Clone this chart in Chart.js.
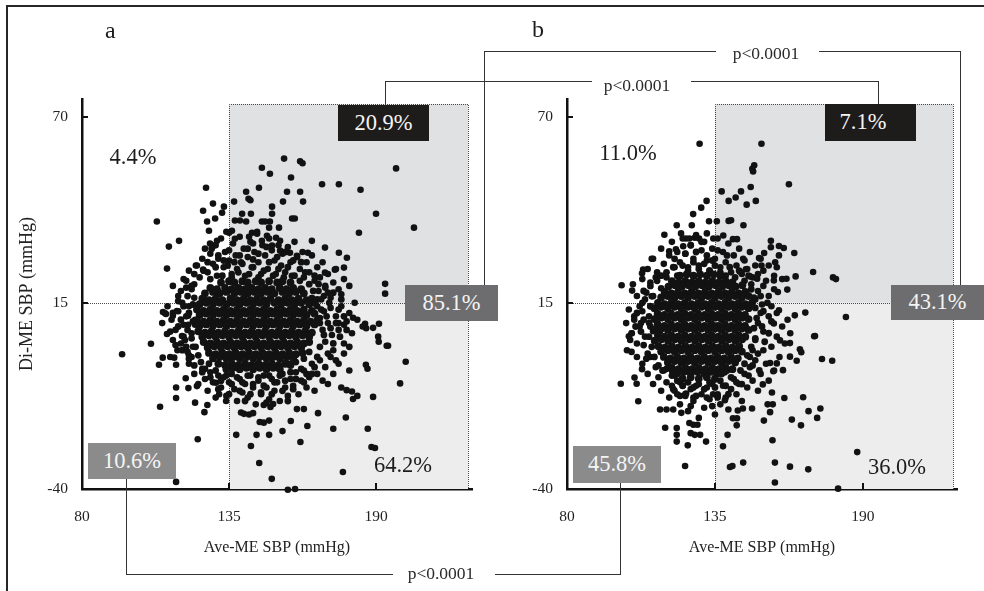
<!DOCTYPE html>
<html>
<head>
<meta charset="utf-8">
<script src="https://cdn.jsdelivr.net/npm/chart.js@4.4.1/dist/chart.umd.min.js"></script>
<style>
  html,body{margin:0;padding:0;background:#fff;}
  #wrap{position:relative;width:984px;height:591px;overflow:hidden;background:#fff;font-family:"Liberation Serif","Times New Roman",serif;}
  canvas{position:absolute;top:0;}
  .ln{position:absolute;background:#333;}
  .frame{position:absolute;background:#262626;}
  .txt{position:absolute;line-height:1;white-space:nowrap;transform:translate(-50%,-50%);color:#1c1c1c;}
  .pct{font-size:22.5px;}
  .pv{font-size:17.5px;color:#2a2a2a;}
  .box{position:absolute;display:flex;align-items:center;justify-content:center;font-size:22.5px;line-height:1;color:#f4f4f4;white-space:nowrap;}
  .panel{position:absolute;font-size:24px;line-height:1;color:#1c1c1c;}
</style>
</head>
<body>
<div id="wrap">
  <canvas id="chartA" width="490" height="591" style="left:0;width:490px;height:591px"></canvas>
  <canvas id="chartB" width="494" height="591" style="left:490px;width:494px;height:591px"></canvas>

  <!-- outer frame -->
  <div class="frame" style="left:6px;top:5px;width:978px;height:2px"></div>
  <div class="frame" style="left:6px;top:5px;width:2px;height:586px"></div>

  <!-- panel letters -->
  <div class="panel" style="left:105px;top:18px">a</div>
  <div class="panel" style="left:532px;top:17px">b</div>

  <!-- outer top bracket (85.1% vs 43.1%) -->
  <div class="ln" style="left:484px;top:51px;width:1px;height:234px"></div>
  <div class="ln" style="left:484px;top:51px;width:232px;height:1px"></div>
  <div class="ln" style="left:819px;top:51px;width:142px;height:1px"></div>
  <div class="ln" style="left:960px;top:51px;width:1px;height:234px"></div>
  <div class="txt pv" style="left:766px;top:54px">p&lt;0.0001</div>

  <!-- inner top bracket (20.9% vs 7.1%) -->
  <div class="ln" style="left:385px;top:81px;width:1px;height:24px"></div>
  <div class="ln" style="left:385px;top:81px;width:207px;height:1px"></div>
  <div class="ln" style="left:691px;top:81px;width:188px;height:1px"></div>
  <div class="ln" style="left:878px;top:81px;width:1px;height:23px"></div>
  <div class="txt pv" style="left:637px;top:86px">p&lt;0.0001</div>

  <!-- bottom bracket (10.6% vs 45.8%) -->
  <div class="ln" style="left:126px;top:479px;width:1px;height:95px"></div>
  <div class="ln" style="left:126px;top:574px;width:267px;height:1px"></div>
  <div class="ln" style="left:495px;top:574px;width:126px;height:1px"></div>
  <div class="ln" style="left:620px;top:483px;width:1px;height:92px"></div>
  <div class="txt pv" style="left:441px;top:574px">p&lt;0.0001</div>

  <!-- panel a labels -->
  <div class="txt pct" style="left:133px;top:157px">4.4%</div>
  <div class="box" style="left:338px;top:105px;width:91px;height:36px;background:#1e1b1b">20.9%</div>
  <div class="box" style="left:405px;top:285px;width:93px;height:36px;background:#6d6d6f">85.1%</div>
  <div class="box" style="left:88px;top:443px;width:88px;height:36px;background:#8b8b8b">10.6%</div>
  <div class="txt pct" style="left:403px;top:465px">64.2%</div>

  <!-- panel b labels -->
  <div class="txt pct" style="left:628px;top:153px">11.0%</div>
  <div class="box" style="left:825px;top:104px;width:76px;height:37px;padding-right:15px;background:#1e1b1b">7.1%</div>
  <div class="box" style="left:891px;top:285px;width:93px;height:35px;background:#6d6d6f">43.1%</div>
  <div class="box" style="left:573px;top:446px;width:88px;height:37px;background:#8b8b8b">45.8%</div>
  <div class="txt pct" style="left:897px;top:467px">36.0%</div>
</div>

<script>
// ---------- axis / threshold values ----------
const xTicks = [80, 135, 190];
const yTicks = [70, 15, -40];
const xMin = 80, yMin = -40, yMax = 75.2;
const aXMax = 225.9, bXMax = 225;
const sbpThreshold = 135;      // Ave-ME SBP cut-off
const diffThreshold = 15;      // Di-ME SBP cut-off
const aBoxRight = 224.4, bBoxRight = 223.6, boxTop = 73.7;
const xTitle = 'Ave-ME SBP (mmHg)';
const yTitle = 'Di-ME SBP (mmHg)';

// ---------- panel a : [Ave-ME SBP, Di-ME SBP] ----------
const aCore = [
[132,21],[135,21.4],[137,21],[140,21.4],[142,21],[145,21.4],[147,21],[150,21.4],[153,21],[155,21.4],[158,21],
[128,19.4],[130.5,19],[133.5,19.4],[136,19],[138.5,19.4],[141,19],[143.5,19.4],[146,19],[148.5,19.4],[151,19],[154,19.4],[156.5,19],[159,19.4],[162,19],
[126,17.8],[129,18.2],[131.5,17.8],[134,18.2],[137,17.8],[139.5,18.2],[142,17.8],[144.5,18.2],[147,17.8],[149.5,18.2],[152,17.8],[155,18.2],[157.5,17.8],[160,18.2],[163,17.8],
[125,16.2],[127.5,15.8],[130,16.2],[132.5,15.8],[135.5,16.2],[138,15.8],[140.5,16.2],[143,15.8],[145.5,16.2],[148,15.8],[150.5,16.2],[153.5,15.8],[156,16.2],[158.5,15.8],[161,16.2],[164,15.8],[166,16.2],
[124,14.6],[126.5,15],[129,14.6],[131.5,15],[134,14.6],[136.5,15],[139,14.6],[141.5,15],[144,14.6],[146.5,15],[149,14.6],[152,15],[154.5,14.6],[157,15],[159.5,14.6],[162,15],[165,14.6],[167,15],
[123,13],[125.5,12.6],[128,13],[130.5,12.6],[133,13],[135.5,12.6],[138,13],[140.5,12.6],[143,13],[145.5,12.6],[148,13],[150.5,12.6],[153,13],[155.5,12.6],[158,13],[160.5,12.6],[163,13],[166,12.6],
[124,11.4],[126.5,11.8],[129,11.4],[131.5,11.8],[134,11.4],[136.5,11.8],[139,11.4],[141.5,11.8],[144,11.4],[146.5,11.8],[149,11.4],[151.5,11.8],[154,11.4],[156.5,11.8],[159,11.4],[161.5,11.8],[164,11.4],[167,11.8],
[123,9.8],[125.5,9.4],[128,9.8],[130.5,9.4],[133,9.8],[135.5,9.4],[138,9.8],[140.5,9.4],[143,9.8],[145.5,9.4],[148,9.8],[150.5,9.4],[153,9.8],[155.5,9.4],[158,9.8],[160.5,9.4],[163,9.8],[165.5,9.4],[168,9.8],
[124,8.2],[126.5,8.6],[129,8.2],[131.5,8.6],[134,8.2],[136.5,8.6],[139,8.2],[141.5,8.6],[144,8.2],[146.5,8.6],[149,8.2],[151.5,8.6],[154,8.2],[156.5,8.6],[159,8.2],[161.5,8.6],[164,8.2],[167,8.6],
[123.5,6.6],[126,6.2],[128.5,6.6],[131,6.2],[133.5,6.6],[136,6.2],[138.5,6.6],[141,6.2],[143.5,6.6],[146,6.2],[148.5,6.6],[151,6.2],[153.5,6.6],[156,6.2],[158.5,6.6],[161,6.2],[163.5,6.6],[166,6.2],
[125,5],[127.5,5.4],[130,5],[132.5,5.4],[135,5],[137.5,5.4],[140,5],[142.5,5.4],[145,5],[147.5,5.4],[150,5],[152.5,5.4],[155,5],[157.5,5.4],[160,5],[162.5,5.4],[165,5],
[125.5,3.4],[128,3],[130.5,3.4],[133,3],[135.5,3.4],[138,3],[140.5,3.4],[143,3],[145.5,3.4],[148,3],[150.5,3.4],[153,3],[155.5,3.4],[158,3],[160.5,3.4],[163,3],[165,3.4],
[127,1.8],[129.5,2.2],[132,1.8],[134.5,2.2],[137,1.8],[139.5,2.2],[142,1.8],[144.5,2.2],[147,1.8],[149.5,2.2],[152,1.8],[154.5,2.2],[157,1.8],[159.5,2.2],[162,1.8],
[127.5,0.2],[130,-0.2],[132.5,0.2],[135,-0.2],[137.5,0.2],[140,-0.2],[142.5,0.2],[145,-0.2],[147.5,0.2],[150,-0.2],[152.5,0.2],[155,-0.2],[157.5,0.2],[160,-0.2],[162.5,0.2],
[129,-1.4],[131.5,-1],[134,-1.4],[136.5,-1],[139,-1.4],[141.5,-1],[144,-1.4],[146.5,-1],[149,-1.4],[151.5,-1],[154,-1.4],[156.5,-1],[159,-1.4],
[131,-3],[133.5,-3.4],[136,-3],[138.5,-3.4],[141,-3],[143.5,-3.4],[146,-3],[148.5,-3.4],[151,-3],[153.5,-3.4],[156,-3],[158,-3.4],
[134,-4.6],[136.5,-4.2],[139,-4.6],[141.5,-4.2],[144,-4.6],[146.5,-4.2],[149,-4.6],[151.5,-4.2],[154,-4.6]
];
const aRing = [
[122,23.5],[125.5,24.5],[128,22],[130,25.5],[132.5,23],[134.5,26],[136,22.5],[138.5,24],[140,26.5],[142.5,23.5],[144,25.5],[146,22.5],[148,24.5],[150,27],[151.5,23],[153.5,25],[155.5,22.5],[157,25.5],[159.5,23],[161.5,21.5],[163.5,24],[165,20.5],[167,23],[127,27],[131,29],[135,30.5],[139,29],[142,31],[146,29.5],[149,31.5],[153,28.5],[156,30],[159,27.5],[162,27],[133,27.5],[144,27.8],[137,27],[128.5,31],
[166.5,18.5],[168,16],[169.5,13],[169,9],[170.5,5.5],[169,2],[168,-1],[167,-4],[171.5,11],[172.5,15],[173,7.5],[174,3],[172,0],[175,9],[176,13],[176.5,5],[175,-2],[178,11],[179,7],[180,2],[177,16],[171,19.5],[174,18],[168.5,20.5],[166,-6],
[126,-4.5],[128,-7],[130,-5],[132,-8],[134,-6.5],[136,-9],[138,-7],[140,-8.5],[142,-6.5],[144,-9],[146,-7],[148,-9.5],[150,-6.5],[152,-8.5],[154,-6.5],[156,-8],[158,-5.5],[160,-7.5],[162,-4.5],[164,-6],[157,-3],[160,-2.5],[163,-1.5],[165,0.5],[131,-10.5],[135,-12],[139,-11],[143,-12],[147,-11.5],[151,-12],[155,-11],[159,-10.5],[163,-8.5],[141,-14],[149,-14.5],[157,-14],
[121,20],[119.5,17],[121.5,14.5],[120,12],[121.5,9.5],[119.5,7],[121,4.5],[122.5,2],[123.5,-0.5],[124.5,-2.5],[118,14],[117,10],[118.5,4],[116,8],[117.5,1],[120,-1.5],[122,-3.5],[116,15.5],[114,12],[115,2.5],[113,6.5],[119,19.5],[125,-5.5],[127.5,-3]
];
const aSpread = [
[118,22],[120,24.5],[121,19],[123,26],[124,22.5],[125,28],[126,31],[127,24],[128,29.5],[129,26.5],[130,32],[130.5,23],[131,28],[132,34],[133,25.5],[133.5,30],[134,36],[135,27.5],[136,23.5],[136.5,32.5],[137.5,29],[138,25],[139,34.5],[139.5,27],[140.5,31],[141,23],[142,28.5],[143,33],[143.5,25.5],[144.5,30],[145.5,36],[146,27],[147,23.5],[147.5,32],[148.5,29],[149.5,25],[150,34],[151,30.5],[152,27.5],[152.5,23.5],[153.5,32],[154.5,26],[155,29.5],[156,24],[157,31.5],[158,27],[158.5,23],[159.5,33],[160.5,28.5],[161.5,25],[162.5,30],[163,22.5],[164,27],[165,24],[166,29],[167,21.5],[168,25.5],[169,22.5],[170,27],[171,20],[172,23.5],[174,21],[175,25],[176,19],[178,22],[180,20],[117,18.5],[119,21.5],[122,20.5],[114,20],[116,17],[168.5,18.5],[170.5,17],[173,16.5],[177,17.5],
[120,-3],[122,-6],[123.5,-9],[125,-4.5],[126,-7.5],[127,-11],[128,-5.5],[129,-8.5],[130,-13],[131,-6.5],[132,-10],[133,-7],[134,-12.5],[135,-8.5],[136,-6],[137,-10.5],[138,-14],[139,-7.5],[140,-11.5],[141,-9],[142,-13],[143,-6.5],[144,-10],[145,-15],[146,-8],[147,-12],[148,-6.5],[149,-10],[150,-13.5],[151,-7.5],[152,-11],[153,-8.5],[154,-14],[155,-6],[156,-10],[157,-12.5],[158,-7.5],[159,-9.5],[160,-5.5],[161,-12],[162,-8],[163,-5],[164,-10],[165,-7],[166,-3],[167,-11],[168,-6],[169,-2],[170,-8],[171,-4],[172,-9],[173,-1],[174,-6],[176,-3],[177,-10],[178,0],[180,-5],[121,-1],[119,2],[118,5],[120,-0.5],
[112,14],[113.5,10],[115,7],[116,12.5],[117,3],[117.5,15],[118,8.5],[119,11],[119.5,0.5],[120,14],[121,6],[121.5,2],[122,16.5],[110,9],[114,4],[111,12],
[168,14],[169,10.5],[170,7],[170.5,12.5],[171,3.5],[172,9],[173,13.5],[173.5,5.5],[174,1],[175,11],[176,7],[177,14],[178,3],[179,9.5],[180,12],[181,6],[183,10],[182,15],[185,8],[169.5,16],[172,18]
];
const aOuter = [
[155.6,57.6],[161.6,56.8],[162.5,56.2],[147.3,54.9],[150.3,53.1],[197.5,54.7],[158.2,52],[169.8,50],[176.1,50],[184.2,48.4],[126.4,49],[146.2,49],[141.4,47.8],[156.7,47.8],[161.6,47.8],[142.3,45.7],[143,45.3],[136.9,44.9],[155.2,44.9],[162.7,44.9],[129,44.3],[133.1,43.4],[151.1,43.4],[125.3,42.2],[132.4,41.6],[139.9,41.3],[143.2,41.3],[151.1,41.3],[190,41.3],[158.6,39.9],[159.6,39.9],[129.8,39.9],[126.8,39],[137.2,39.3],[139.1,39.3],[141.4,39],[147.3,39],[148.5,39],[150.3,39],[108,39],[204.2,37.2],[153.7,37.2],[150,37.2],[127.5,36.3],[136.1,36.3],[135,35.7],[183.6,35.7],[143.6,35.7],[145.5,35.4],[142.5,34.5],[149.2,34.8],[152.6,34.2],[137.2,33.9],[116.3,33.3],[130.5,33.3],[147.3,33.3],[154.1,33.3],[166,33.3],[144,32.5],[127.9,32.5],[129.4,31.9],[112.5,31.6],[151.1,31.9],[170.9,31.3],[154.1,30.4],[157.8,29.8],[164.5,29.8],[176.1,29.8],[160.4,28.9],[179.1,28.3],[111.8,25.1],[122.6,26],[125.3,24.8],[174.6,24.8],[178,25.4],[170.9,23.9],[193.4,20.6],[193.4,17.7],[110.3,12.3],[111.4,11.7],[114,11.2],[115.5,12.6],[119.7,11.2],[122.3,10],[105.8,2.9],[111.8,5.8],[181.4,10.6],[185.9,8.8],[186.3,7.5],[188.9,7.6],[191.1,8.8],[190.8,5],[191,3.5],[194.5,2.3],[176,9],[178,8.5],
[95,-0.2],[108.8,-3.3],[110.2,-1.2],[109.2,-15.7],[113,-1],[114.5,-1.2],[115.2,-3.3],[115.2,-10],[115.2,-13.1],[115.7,1],[117.4,5.2],[119.7,8.5],[122.3,8.5],[118.8,-7.3],[119.8,-10.2],[122.3,-14.5],[123,-9.6],[125.8,-17.3],[126.9,-15.2],[123.3,-25.3],[115.2,-37.9],[130.1,-8.6],[131.3,-12],[133.9,-14],[137.7,-24],[139.5,-17.4],[140.6,-17.8],[142.5,-18],[144,-17.6],[143.2,-27.3],[145.3,-24],[146.3,-32.3],[150,-24],[151,-37],[146.5,-20.2],[148,-20.4],[150,-19.8],[148,-15.2],[150.5,-15.8],[151.5,-14.9],[155,-22.9],[158.1,-19.9],[161.7,-26.1],[160.4,-16.4],[163,-16.4],[164.3,-21.4],[168.3,-17.6],[174,-22.2],[178.7,-18.9],[177.6,-35],[186.9,-22.2],[188.3,-27.6],[189.6,-27.9],[181.4,-13.4],[183,-12.5],[188.9,-12.8],[179,-10.8],[181,-11.2],[199,-8.8],[201.1,-2.4],[194,2.3],[186.2,-3.3],[186.8,-4.5],[159.7,-40],[157,-40.2]
];

// ---------- panel b : [Ave-ME SBP, Di-ME SBP] ----------
const bCore = [
[122,23],[124.5,23.4],[127,23],[129.5,23.4],[132,23],[134.5,23.4],[137,23],
[119,21.4],[121.5,21],[124,21.4],[126.5,21],[129,21.4],[131.5,21],[134,21.4],[136.5,21],[139,21.4],[141.5,21],
[117.7,19.8],[120.2,20.2],[122.7,19.8],[125.2,20.2],[127.7,19.8],[130.2,20.2],[132.7,19.8],[135.2,20.2],[137.7,19.8],[140.2,20.2],[142.7,19.8],[145.2,20.2],
[116.3,18.2],[118.8,17.8],[121.3,18.2],[123.8,17.8],[126.3,18.2],[128.8,17.8],[131.3,18.2],[133.8,17.8],[136.3,18.2],[138.8,17.8],[141.3,18.2],[143.8,17.8],[146.3,18.2],
[115,16.6],[117.5,17],[120,16.6],[122.5,17],[125,16.6],[127.5,17],[130,16.6],[132.5,17],[135,16.6],[137.5,17],[140,16.6],[142.5,17],[145,16.6],[147.5,17],
[113.8,15],[116.3,14.6],[118.8,15],[121.3,14.6],[123.8,15],[126.3,14.6],[128.8,15],[131.3,14.6],[133.8,15],[136.3,14.6],[138.8,15],[141.3,14.6],[143.8,15],[146.3,14.6],[148.8,15],
[112.5,13.4],[115,13.8],[117.5,13.4],[120,13.8],[122.5,13.4],[125,13.8],[127.5,13.4],[130,13.8],[132.5,13.4],[135,13.8],[137.5,13.4],[140,13.8],[142.5,13.4],[145,13.8],[147.5,13.4],
[113.7,11.8],[116.2,11.4],[118.7,11.8],[121.2,11.4],[123.7,11.8],[126.2,11.4],[128.7,11.8],[131.2,11.4],[133.7,11.8],[136.2,11.4],[138.7,11.8],[141.2,11.4],[143.7,11.8],[146.2,11.4],
[112.5,10.2],[115,10.6],[117.5,10.2],[120,10.6],[122.5,10.2],[125,10.6],[127.5,10.2],[130,10.6],[132.5,10.2],[135,10.6],[137.5,10.2],[140,10.6],[142.5,10.2],[145,10.6],[147.5,10.2],
[113.7,8.6],[116.2,8.2],[118.7,8.6],[121.2,8.2],[123.7,8.6],[126.2,8.2],[128.7,8.6],[131.2,8.2],[133.7,8.6],[136.2,8.2],[138.7,8.6],[141.2,8.2],[143.7,8.6],[146.2,8.2],
[112.5,7],[115,7.4],[117.5,7],[120,7.4],[122.5,7],[125,7.4],[127.5,7],[130,7.4],[132.5,7],[135,7.4],[137.5,7],[140,7.4],[142.5,7],[145,7.4],[147.5,7],
[113.8,5.4],[116.3,5],[118.8,5.4],[121.3,5],[123.8,5.4],[126.3,5],[128.8,5.4],[131.3,5],[133.8,5.4],[136.3,5],[138.8,5.4],[141.3,5],[143.8,5.4],[146.3,5],
[112.6,3.8],[115.1,4.2],[117.6,3.8],[120.1,4.2],[122.6,3.8],[125.1,4.2],[127.6,3.8],[130.1,4.2],[132.6,3.8],[135.1,4.2],[137.6,3.8],[140.1,4.2],[142.6,3.8],[145.1,4.2],
[114,2.2],[116.5,1.8],[119,2.2],[121.5,1.8],[124,2.2],[126.5,1.8],[129,2.2],[131.5,1.8],[134,2.2],[136.5,1.8],[139,2.2],[141.5,1.8],[144,2.2],
[115,0.6],[117.5,1],[120,0.6],[122.5,1],[125,0.6],[127.5,1],[130,0.6],[132.5,1],[135,0.6],[137.5,1],[140,0.6],[142.5,1],[145,0.6],
[116,-1],[118.5,-1.4],[121,-1],[123.5,-1.4],[126,-1],[128.5,-1.4],[131,-1],[133.5,-1.4],[136,-1],[138.5,-1.4],[141,-1],[143.5,-1.4],
[117.5,-2.6],[120,-2.2],[122.5,-2.6],[125,-2.2],[127.5,-2.6],[130,-2.2],[132.5,-2.6],[135,-2.2],[137.5,-2.6],[140,-2.2],[142.5,-2.6],
[119,-4.2],[121.5,-4.6],[124,-4.2],[126.5,-4.6],[129,-4.2],[131.5,-4.6],[134,-4.2],[136.5,-4.6],[139,-4.2],[141.5,-4.6],
[121,-5.8],[123.5,-5.4],[126,-5.8],[128.5,-5.4],[131,-5.8],[133.5,-5.4],[136,-5.8],[138.5,-5.4],
[123,-7.4],[126,-7],[129,-7.4],[132,-7],[135,-7.4]
];
const bRing = [
[117,24],[119.5,25.5],[121,23],[123,26],[125,24.5],[127,27],[129,25],[131,26.5],[133,24.5],[135,26],[137,24],[139,23],[140.5,25.5],[142.5,22.5],[144,24.5],[146,21.5],[147.5,23],[120,28],[124,29.5],[128,30],[132,29],[136,30.5],[139.5,29],[126,32],[130,33],[134,27.5],
[148.5,19],[149.5,16.5],[150,13.5],[150.5,10.5],[149.5,7.5],[150,4.5],[148.5,2],[147,-0.5],[146,-3],[144.5,-5],[152,17],[153,12.5],[152.5,8],[153.5,3.5],[151,0],[149,-3.5],[154.5,15],[155,6],[156,9.5],[151.5,-5],[147.5,-6.5],
[117,-4.5],[119,-6.5],[121,-8],[123,-9.5],[125,-8.5],[127,-10],[129,-9],[131,-10.5],[133,-8.5],[135,-10],[137,-8],[139,-9.5],[141,-7],[143,-8.5],[145,-9],[119.5,-10.5],[124,-12],[128,-12.5],[132,-13],[136,-12.5],[140,-12],[126,-15.5],[134,-15.5],[137.5,-6],[139.5,-5],
[111,20],[112,17],[111,14],[110.5,11],[111,8],[110.5,5],[111.5,2],[112.5,-1],[114,-3.5],[115.5,-5],[108.5,18.5],[108,15],[108.5,10],[107.5,6.5],[108.5,2.5],[109.5,-1.5],[113.5,21.5],[115,23],[106,12],[105.5,8]
];
const bSpread = [
[110,25],[112,28],[113.5,24],[115,31],[116,26.5],[117,22.5],[118,29],[119,33],[120,25.5],[121,30],[122,27],[123,34],[124,29.5],[125,25.5],[126,32],[127,28],[128,35],[129,26],[130,30.5],[131,33],[132,27.5],[133,24.5],[134,31],[135,28],[136,34],[137,25.5],[138,30],[139,27],[140,32.5],[141,24],[142,29],[143,26],[144,31],[145,23.5],[146,27.5],[147,25],[148,30],[149,22.5],[150,26],[151,23.5],[152,28],[153,24.5],[154,21.5],[155,26],[157,23],[158,25.5],[160,22],[148.5,20.5],[151,18.5],[153,20],[150,16],[152.5,14.5],[155,17],[157,19],[111,21],[108,22],[109.5,18],[106,17],[107,14],
[108,-3],[110,-6],[111,-1],[112,-9],[113,-4],[114,-7],[115,-11],[116,-5],[117,-8.5],[118,-13],[119,-9.5],[120,-6.5],[121,-12],[122,-15],[123,-9.5],[124,-12.5],[125,-17],[126,-10.5],[127,-14],[128,-9.5],[129,-19],[130,-12],[131,-16],[132,-10],[133,-13.5],[134,-9],[135,-18],[136,-12],[137,-15],[138,-9.5],[139,-13],[140,-16.5],[141,-10.5],[142,-7.5],[143,-12],[144,-9],[145,-14],[146,-6],[147,-10],[148,-4],[149,-8],[150,-2],[151,-11],[152,-6],[153,1],[154,-3],[155,-8],[156,2],[157,-5],[158,5],[159,-1],[160,8],[161,3],[162,10],[163,6],[150,4],[151,9],[152,12],[153,6.5],[155,11],[156,14],[158,12],[149,1],[148,-1],
[104,6],[105,10],[106,3],[107,8],[108,12.5],[109,5],[110,0],[110.5,9],[111,14],[109,16],[103,13],[102,9],[106,-1],[104,0.5]
];
const bOuter = [
[129.3,62],[152.3,62],[148.9,54.6],[149.6,55.6],[149.2,53.8],[162.5,50],[137.5,47.9],[144.7,47.9],[142.7,46.1],[140.1,45.1],[148.3,49.2],[146.8,44],[150.2,45.1],[131.9,45.1],[129.9,43.1],[126.9,41.2],[132.8,39.1],[135.7,39.1],[140.1,39.2],[141,39.4],[120.8,37.9],[126.4,37.9],[145.6,37.9],[116.2,35.1],[122.4,35.5],[124.2,34],[125.5,34],[127.5,34.2],[129.1,34],[132,35.5],[134.4,34],[138.1,34.9],[141.7,33.8],[143.2,33.8],[155.8,33.3],[155.8,31.4],[158.8,31.8],[160.6,31.2],[164.5,29.7],[153.3,29.7],[158.8,29],[151.4,28.2],[152.3,26],[157.4,27],[145.5,28],[146.5,24.9],[144.5,24.1],[148,22.8],[150.7,22.1],[156.9,21.6],[161.6,22.1],[165,22.8],[171.5,24.1],[178.9,22.5],[180,22],[158.4,18.2],[161.9,18.9],[100.3,20.2],[104.2,18.6],[104.5,20.5],[107.9,23.7],[108.3,24.8],[111.5,28],[113,22.5],[111.5,16.9],[118,30.2],[120.5,30.8],[123.2,31.7],[115,19.3],[118.3,16.9],[168.6,12.1],[183.7,10.8],[172.2,5.2],[166.6,1.3],[162.9,3.1],[159.2,3.9],[164.7,11.3],[158.8,12.8],[156.9,8.9],[105,11],[107.5,9],[103,5.1],[112,6.6],[114.6,6.6],[171.9,5.1],[167.1,0.4],[162.9,-0.9],[165.4,-2.1],[174.8,-1.6],[178.6,-2.1],[158,-2.9],[160.3,-4.9],[156.7,-5.2],[155.5,-2.8],
[152.8,-9.1],[156.2,-11.5],[160.8,-13.1],[154.6,-15],[156.5,-15],[167.8,-12.9],[169.8,-17],[174.2,-16.2],[173,-19],[163.6,-19.5],[167,-21.2],[155.5,-17.3],[153.2,-19.8],[145.4,-16.2],[148.8,-16.2],[141.7,-19.1],[143.2,-19.1],[143.1,-21.2],[139.7,-24],[138,-27.4],[143.5,-16.8],[156.4,-25.6],[140.6,-33.5],[141.5,-33.2],[145.5,-32.2],[157.3,-32.2],[162.9,-33.4],[169.7,-34.2],[157.3,-38.1],[187.9,-29.1],[180.8,-39.9],[123.9,-33.2],[124.9,-27.1],[120.8,-22],[120.8,-24],[120.8,-26],[125.5,-20.5],[127,-21],[128.5,-21],[129.5,-24],[127.5,-24],[126,-23.5],[131.7,-26],[116.5,-21.9],[114.6,-16.5],[117,-16.5],[119.5,-16.5],[122.5,-17.5],[106.5,-14.1],[100,-8.9],[105.1,-7.1],[105.9,-8.9],[107.9,-4.6],[102.3,1],[103.5,4],[104.1,6],[119,-5],[122,-8.5],[120,-11],[122,-12.5],[124.3,-11.8],[127,-13],[134.3,-12],[138.7,-13.8],[136,-13]
];

// ---------- plugin: shaded quadrants, dotted cut-off lines, inner tick marks ----------
const quadrantPlugin = {
  id: 'quadrants',
  beforeDatasetsDraw(chart, args, opts) {
    const {ctx, chartArea} = chart;
    const xs = chart.scales.x, ys = chart.scales.y;
    const x0 = xs.getPixelForValue(sbpThreshold);
    const x1 = xs.getPixelForValue(opts.boxRight);
    const yT = ys.getPixelForValue(boxTop);
    const yM = ys.getPixelForValue(diffThreshold);
    const yB = ys.getPixelForValue(yMin);
    ctx.save();
    ctx.fillStyle = '#e0e1e3';
    ctx.fillRect(x0, yT, x1 - x0, yM - yT);
    ctx.fillStyle = '#ededed';
    ctx.fillRect(x0, yM, x1 - x0, yB - yM);
    ctx.strokeStyle = '#4a4a4a';
    ctx.lineWidth = 1;
    ctx.setLineDash([1, 1]);
    ctx.beginPath();
    const px0 = Math.round(x0) + 0.5, px1 = Math.round(x1) + 0.5;
    const pyT = Math.round(yT) + 0.5, pyM = Math.round(yM) + 0.5;
    ctx.moveTo(px0, yB); ctx.lineTo(px0, pyT); ctx.lineTo(px1, pyT); ctx.lineTo(px1, yB);
    ctx.moveTo(chartArea.left, pyM); ctx.lineTo(px1, pyM);
    ctx.stroke();
    ctx.restore();
  },
  afterDraw(chart) {
    const {ctx, chartArea} = chart;
    const xs = chart.scales.x, ys = chart.scales.y;
    ctx.save();
    ctx.strokeStyle = '#111';
    ctx.lineWidth = 2;
    ctx.beginPath();
    yTicks.forEach(v => {
      const p = Math.round(ys.getPixelForValue(v));
      ctx.moveTo(chartArea.left, p); ctx.lineTo(chartArea.left + 6, p);
    });
    xTicks.forEach(v => {
      const p = Math.round(xs.getPixelForValue(v));
      ctx.moveTo(p, chartArea.bottom); ctx.lineTo(p, chartArea.bottom - 6);
    });
    ctx.stroke();
    ctx.restore();
  }
};

function dotSet(points, radius) {
  return {
    data: points.map(p => ({x: p[0], y: p[1]})),
    backgroundColor: '#121212',
    borderWidth: 0,
    pointRadius: radius,
    pointHoverRadius: radius,
    clip: false
  };
}

function makePanel(id, sets, cfg) {
  return new Chart(document.getElementById(id), {
    type: 'scatter',
    data: {
      datasets: [dotSet(sets[0], 3.9), dotSet(sets[1], 3.4), dotSet(sets[2], 3.3), dotSet(sets[3], 3.3)]
    },
    options: {
      responsive: false,
      animation: false,
      devicePixelRatio: 1,
      events: [],
      layout: {padding: {left: cfg.padLeft, right: cfg.padRight, top: 99, bottom: 34}},
      plugins: {
        legend: {display: false},
        tooltip: {enabled: false},
        quadrants: {boxRight: cfg.boxRight}
      },
      scales: {
        x: {
          type: 'linear', min: xMin, max: cfg.xMax,
          afterBuildTicks: s => { s.ticks = xTicks.map(v => ({value: v})); },
          afterFit: s => { s.height = 68; },
          grid: {display: false, drawTicks: false},
          border: {display: true, color: '#111', width: 2.5},
          ticks: {color: '#222', padding: 19, maxRotation: 0, autoSkip: false,
                  font: {family: 'Liberation Serif', size: 15.5}},
          title: {display: true, text: xTitle, color: '#222', padding: 0,
                  font: {family: 'Liberation Serif', size: 16}}
        },
        y: {
          type: 'linear', min: yMin, max: yMax,
          afterBuildTicks: s => { s.ticks = yTicks.map(v => ({value: v})); },
          afterFit: s => { s.width = cfg.yWidth; },
          grid: {display: false, drawTicks: false},
          border: {display: true, color: '#111', width: 2.5},
          ticks: {color: '#222', padding: 14, autoSkip: false,
                  font: {family: 'Liberation Serif', size: 15.5}},
          title: {display: cfg.showYTitle, text: yTitle, color: '#222', padding: {top: 6, bottom: 0},
                  font: {family: 'Liberation Serif', size: 18}}
        }
      }
    },
    plugins: [quadrantPlugin]
  });
}

makePanel('chartA', [aCore, aRing, aSpread, aOuter], {padLeft: 10, padRight: 18, yWidth: 72, xMax: aXMax, boxRight: aBoxRight, showYTitle: true});
makePanel('chartB', [bCore, bRing, bSpread, bOuter], {padLeft: 0, padRight: 27, yWidth: 77, xMax: bXMax, boxRight: bBoxRight, showYTitle: false});
</script>
</body>
</html>
